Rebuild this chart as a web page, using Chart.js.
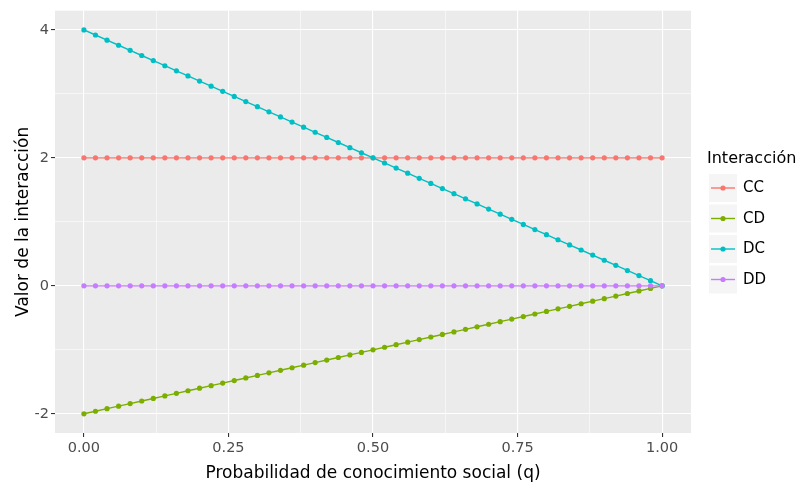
<!DOCTYPE html>
<html>
<head>
<meta charset="utf-8">
<script src="https://cdn.jsdelivr.net/npm/chart.js@4/dist/chart.umd.min.js"></script>
<style>
  html, body { margin: 0; padding: 0; background: #ffffff; }
  canvas { display: block; }
</style>
</head>
<body>
<canvas id="c" width="805" height="486"></canvas>
<script>
// Probability of social knowledge (q)
const q = [0, 0.02, 0.04, 0.06, 0.08, 0.1, 0.12, 0.14, 0.16, 0.18,
  0.2, 0.22, 0.24, 0.26, 0.28, 0.3, 0.32, 0.34, 0.36, 0.38,
  0.4, 0.42, 0.44, 0.46, 0.48, 0.5, 0.52, 0.54, 0.56, 0.58,
  0.6, 0.62, 0.64, 0.66, 0.68, 0.7, 0.72, 0.74, 0.76, 0.78,
  0.8, 0.82, 0.84, 0.86, 0.88, 0.9, 0.92, 0.94, 0.96, 0.98, 1];

// Interaction values for each pairing
const CC = [2, 2, 2, 2, 2, 2, 2, 2, 2, 2,
  2, 2, 2, 2, 2, 2, 2, 2, 2, 2,
  2, 2, 2, 2, 2, 2, 2, 2, 2, 2,
  2, 2, 2, 2, 2, 2, 2, 2, 2, 2,
  2, 2, 2, 2, 2, 2, 2, 2, 2, 2, 2];
const CD = [-2, -1.96, -1.92, -1.88, -1.84, -1.8, -1.76, -1.72, -1.68, -1.64,
  -1.6, -1.56, -1.52, -1.48, -1.44, -1.4, -1.36, -1.32, -1.28, -1.24,
  -1.2, -1.16, -1.12, -1.08, -1.04, -1, -0.96, -0.92, -0.88, -0.84,
  -0.8, -0.76, -0.72, -0.68, -0.64, -0.6, -0.56, -0.52, -0.48, -0.44,
  -0.4, -0.36, -0.32, -0.28, -0.24, -0.2, -0.16, -0.12, -0.08, -0.04, 0];
const DC = [4, 3.92, 3.84, 3.76, 3.68, 3.6, 3.52, 3.44, 3.36, 3.28,
  3.2, 3.12, 3.04, 2.96, 2.88, 2.8, 2.72, 2.64, 2.56, 2.48,
  2.4, 2.32, 2.24, 2.16, 2.08, 2, 1.92, 1.84, 1.76, 1.68,
  1.6, 1.52, 1.44, 1.36, 1.28, 1.2, 1.12, 1.04, 0.96, 0.88,
  0.8, 0.72, 0.64, 0.56, 0.48, 0.4, 0.32, 0.24, 0.16, 0.08, 0];
const DD = [0, 0, 0, 0, 0, 0, 0, 0, 0, 0,
  0, 0, 0, 0, 0, 0, 0, 0, 0, 0,
  0, 0, 0, 0, 0, 0, 0, 0, 0, 0,
  0, 0, 0, 0, 0, 0, 0, 0, 0, 0,
  0, 0, 0, 0, 0, 0, 0, 0, 0, 0, 0];

const seriesNames = ['CC', 'CD', 'DC', 'DD'];
const seriesValues = [CC, CD, DC, DD];
const seriesColors = ['#F8766D', '#7CAE00', '#00BFC4', '#C77CFF'];

// Axis breaks (major carry labels, minor only grid lines)
const xMajor = [0, 0.25, 0.5, 0.75, 1];
const xMinor = [0.125, 0.375, 0.625, 0.875];
const yMajor = [-2, 0, 2, 4];
const yMinor = [-1, 1, 3];

const xTitle = 'Probabilidad de conocimiento social (q)';
const yTitle = 'Valor de la interacción';
const legendTitle = 'Interacción';

const FONT = '"DejaVu Sans", "Liberation Sans", sans-serif';

const datasets = seriesNames.map((name, i) => ({
  label: name,
  data: q.map((x, j) => ({ x: x, y: seriesValues[i][j] })),
  borderColor: seriesColors[i],
  backgroundColor: seriesColors[i],
  pointBackgroundColor: seriesColors[i],
  pointBorderWidth: 0,
  pointRadius: 2.6,
  borderWidth: 1.4,
  tension: 0,
  fill: false,
  order: seriesNames.length - i
}));

function isMajor(list, v) {
  return list.some(m => Math.abs(m - v) < 1e-9);
}

function gridOpts(majors) {
  return {
    drawOnChartArea: true,
    drawTicks: true,
    tickLength: 4,
    color: '#ffffff',
    lineWidth: c => (c.tick && isMajor(majors, c.tick.value)) ? 1.1 : 0.55,
    tickColor: c => (c.tick && isMajor(majors, c.tick.value)) ? '#333333' : 'rgba(0,0,0,0)',
    tickWidth: 1.1
  };
}

// Grey panel behind the plot
const panelPlugin = {
  id: 'panel',
  beforeDraw(chart) {
    const a = chart.chartArea;
    const ctx = chart.ctx;
    ctx.save();
    ctx.fillStyle = '#EBEBEB';
    ctx.fillRect(a.left, a.top, a.right - a.left, a.bottom - a.top);
    ctx.restore();
  }
};

// Axis titles and the legend on the right
const annotPlugin = {
  id: 'annot',
  afterDraw(chart) {
    const ctx = chart.ctx;
    const a = chart.chartArea;
    ctx.save();
    ctx.fillStyle = '#000000';
    ctx.font = '17px ' + FONT;
    ctx.textAlign = 'center';
    ctx.textBaseline = 'alphabetic';
    ctx.fillText(xTitle, (a.left + a.right) / 2, 477.5);

    ctx.save();
    ctx.translate(28, (a.top + a.bottom) / 2);
    ctx.rotate(-Math.PI / 2);
    ctx.fillText(yTitle, 0, 0);
    ctx.restore();

    // legend
    ctx.textAlign = 'left';
    ctx.font = '16px ' + FONT;
    ctx.fillText(legendTitle, 707, 162.5);

    const rowY = [188, 218.5, 249, 279.5];
    ctx.font = '15px ' + FONT;
    ctx.textBaseline = 'middle';
    seriesNames.forEach((name, i) => {
      const y = rowY[i];
      ctx.fillStyle = '#F5F5F5';
      ctx.fillRect(709, y - 14, 28, 28);
      ctx.strokeStyle = seriesColors[i];
      ctx.lineWidth = 1.4;
      ctx.beginPath();
      ctx.moveTo(711, y);
      ctx.lineTo(735, y);
      ctx.stroke();
      ctx.fillStyle = seriesColors[i];
      ctx.beginPath();
      ctx.arc(723, y, 2.6, 0, Math.PI * 2);
      ctx.fill();
      ctx.fillStyle = '#000000';
      ctx.fillText(name, 743, y + 0.5);
    });
    ctx.restore();
  }
};

new Chart(document.getElementById('c'), {
  type: 'line',
  data: { datasets: datasets },
  plugins: [panelPlugin, annotPlugin],
  options: {
    responsive: false,
    animation: false,
    events: [],
    layout: { padding: { top: 5.5, right: 114, left: 0, bottom: 0 } },
    plugins: { legend: { display: false }, tooltip: { enabled: false } },
    scales: {
      x: {
        type: 'linear',
        min: -0.05,
        max: 1.05,
        afterBuildTicks: s => { s.ticks = xMajor.concat(xMinor).sort((p, r) => p - r).map(v => ({ value: v })); },
        afterFit: s => { s.height = 53; },
        border: { display: false },
        grid: gridOpts(xMajor),
        ticks: {
          autoSkip: false,
          maxRotation: 0,
          padding: 3,
          color: '#4D4D4D',
          font: { family: FONT, size: 14.5 },
          callback: v => isMajor(xMajor, v) ? v.toFixed(2) : ''
        }
      },
      y: {
        type: 'linear',
        min: -2.3,
        max: 4.3,
        afterBuildTicks: s => { s.ticks = yMajor.concat(yMinor).sort((p, r) => p - r).map(v => ({ value: v })); },
        afterFit: s => { s.width = 55; },
        border: { display: false },
        grid: gridOpts(yMajor),
        ticks: {
          autoSkip: false,
          padding: 2,
          color: '#4D4D4D',
          font: { family: FONT, size: 14.5 },
          callback: v => isMajor(yMajor, v) ? String(v) : ''
        }
      }
    }
  }
});
</script>
</body>
</html>
